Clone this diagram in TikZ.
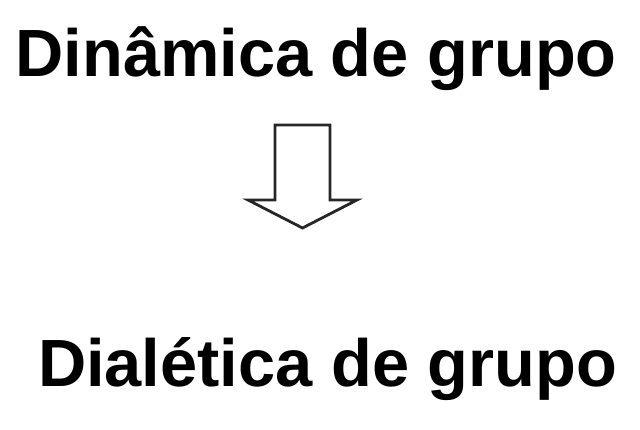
\documentclass[tikz,border=0pt]{standalone}
\usepackage{fontspec}
\setmainfont{Liberation Sans}
\begin{document}
\begin{tikzpicture}[x=1pt,y=1pt,
  bigtext/.style={font=\fontsize{66.8}{70}\selectfont\bfseries, inner sep=0pt, outer sep=0pt, anchor=base west},
  blockarrow/.style={draw=black!85, line width=2.8pt, fill=white, line join=miter}]
\useasboundingbox (0,0) rectangle (640,430);
\fill[white] (0,0) rectangle (640,430);
\node[bigtext] (top) at (15.5,353) {Dinâmica de grupo};
\node[bigtext] (bottom) at (38,43) {Dialética de grupo};
\draw[blockarrow] (275,305) -- (330,305) -- (330,230) -- (357,230) -- (302.5,202) -- (248,230) -- (275,230) -- cycle;
\end{tikzpicture}
\end{document}
